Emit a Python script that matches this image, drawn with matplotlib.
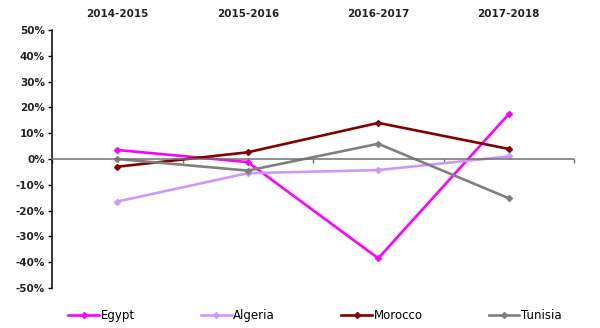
import matplotlib
matplotlib.use('agg')
import matplotlib.pyplot as plt
import matplotlib.transforms as mtransforms
from matplotlib.ticker import FuncFormatter, FixedLocator

periods = ['2014-2015', '2015-2016', '2016-2017', '2017-2018']
egypt = [3.5, -1.2, -38.5, 17.4]
algeria = [-16.5, -5.5, -4.3, 1.0]
morocco = [-3.0, 2.6, 14.0, 3.9]
tunisia = [0.0, -4.5, 5.9, -15.2]

series = [('Egypt', egypt, '#FF00FF'),
          ('Algeria', algeria, '#CC99FF'),
          ('Morocco', morocco, '#800000'),
          ('Tunisia', tunisia, '#808080')]

plt.rcParams['font.family'] = ['DejaVu Sans']

fig = plt.figure(figsize=(6.0, 3.28), dpi=100)
ax = fig.add_axes([0.0867, 0.122, 0.87, 0.7865])

x = list(range(len(periods)))
for name, vals, col in series:
    ax.plot(x, vals, color=col, lw=1.9, marker='D', ms=3, label=name)

ax.set_xlim(-0.5, len(periods) - 0.5)
ax.set_ylim(-50, 50)
ax.set_yticks(range(-50, 51, 10))
ax.yaxis.set_major_formatter(FuncFormatter(lambda v, p: f'{v:.0f}%'))
ax.tick_params(axis='y', direction='out', length=3, width=1, labelsize=7.5, pad=2)
for lab in ax.get_yticklabels():
    lab.set_fontweight('bold')
    lab.set_color('#222222')

ax.spines['top'].set_visible(False)
ax.spines['right'].set_visible(False)
ax.spines['left'].set_linewidth(1.1)
ax.spines['bottom'].set_position(('data', 0))
ax.spines['bottom'].set_color('#707070')
ax.spines['bottom'].set_linewidth(1.1)
ax.xaxis.set_major_locator(FixedLocator([i - 0.5 for i in range(len(periods) + 1)]))
ax.tick_params(axis='x', direction='out', length=3, width=1, color='#707070', labelbottom=False)

trans = mtransforms.blended_transform_factory(ax.transData, fig.transFigure)
for i, p in enumerate(periods):
    ax.text(i, 0.958, p, transform=trans, ha='center', va='center',
            fontsize=7.5, fontweight='bold', color='#222222')

fig.legend(loc='center', bbox_to_anchor=(0.525, 0.037), ncol=4, frameon=False,
           handlelength=2.6, handletextpad=0.15, columnspacing=5.6,
           prop={'size': 8.5})

fig.savefig('out.png', dpi=100, facecolor='white')
